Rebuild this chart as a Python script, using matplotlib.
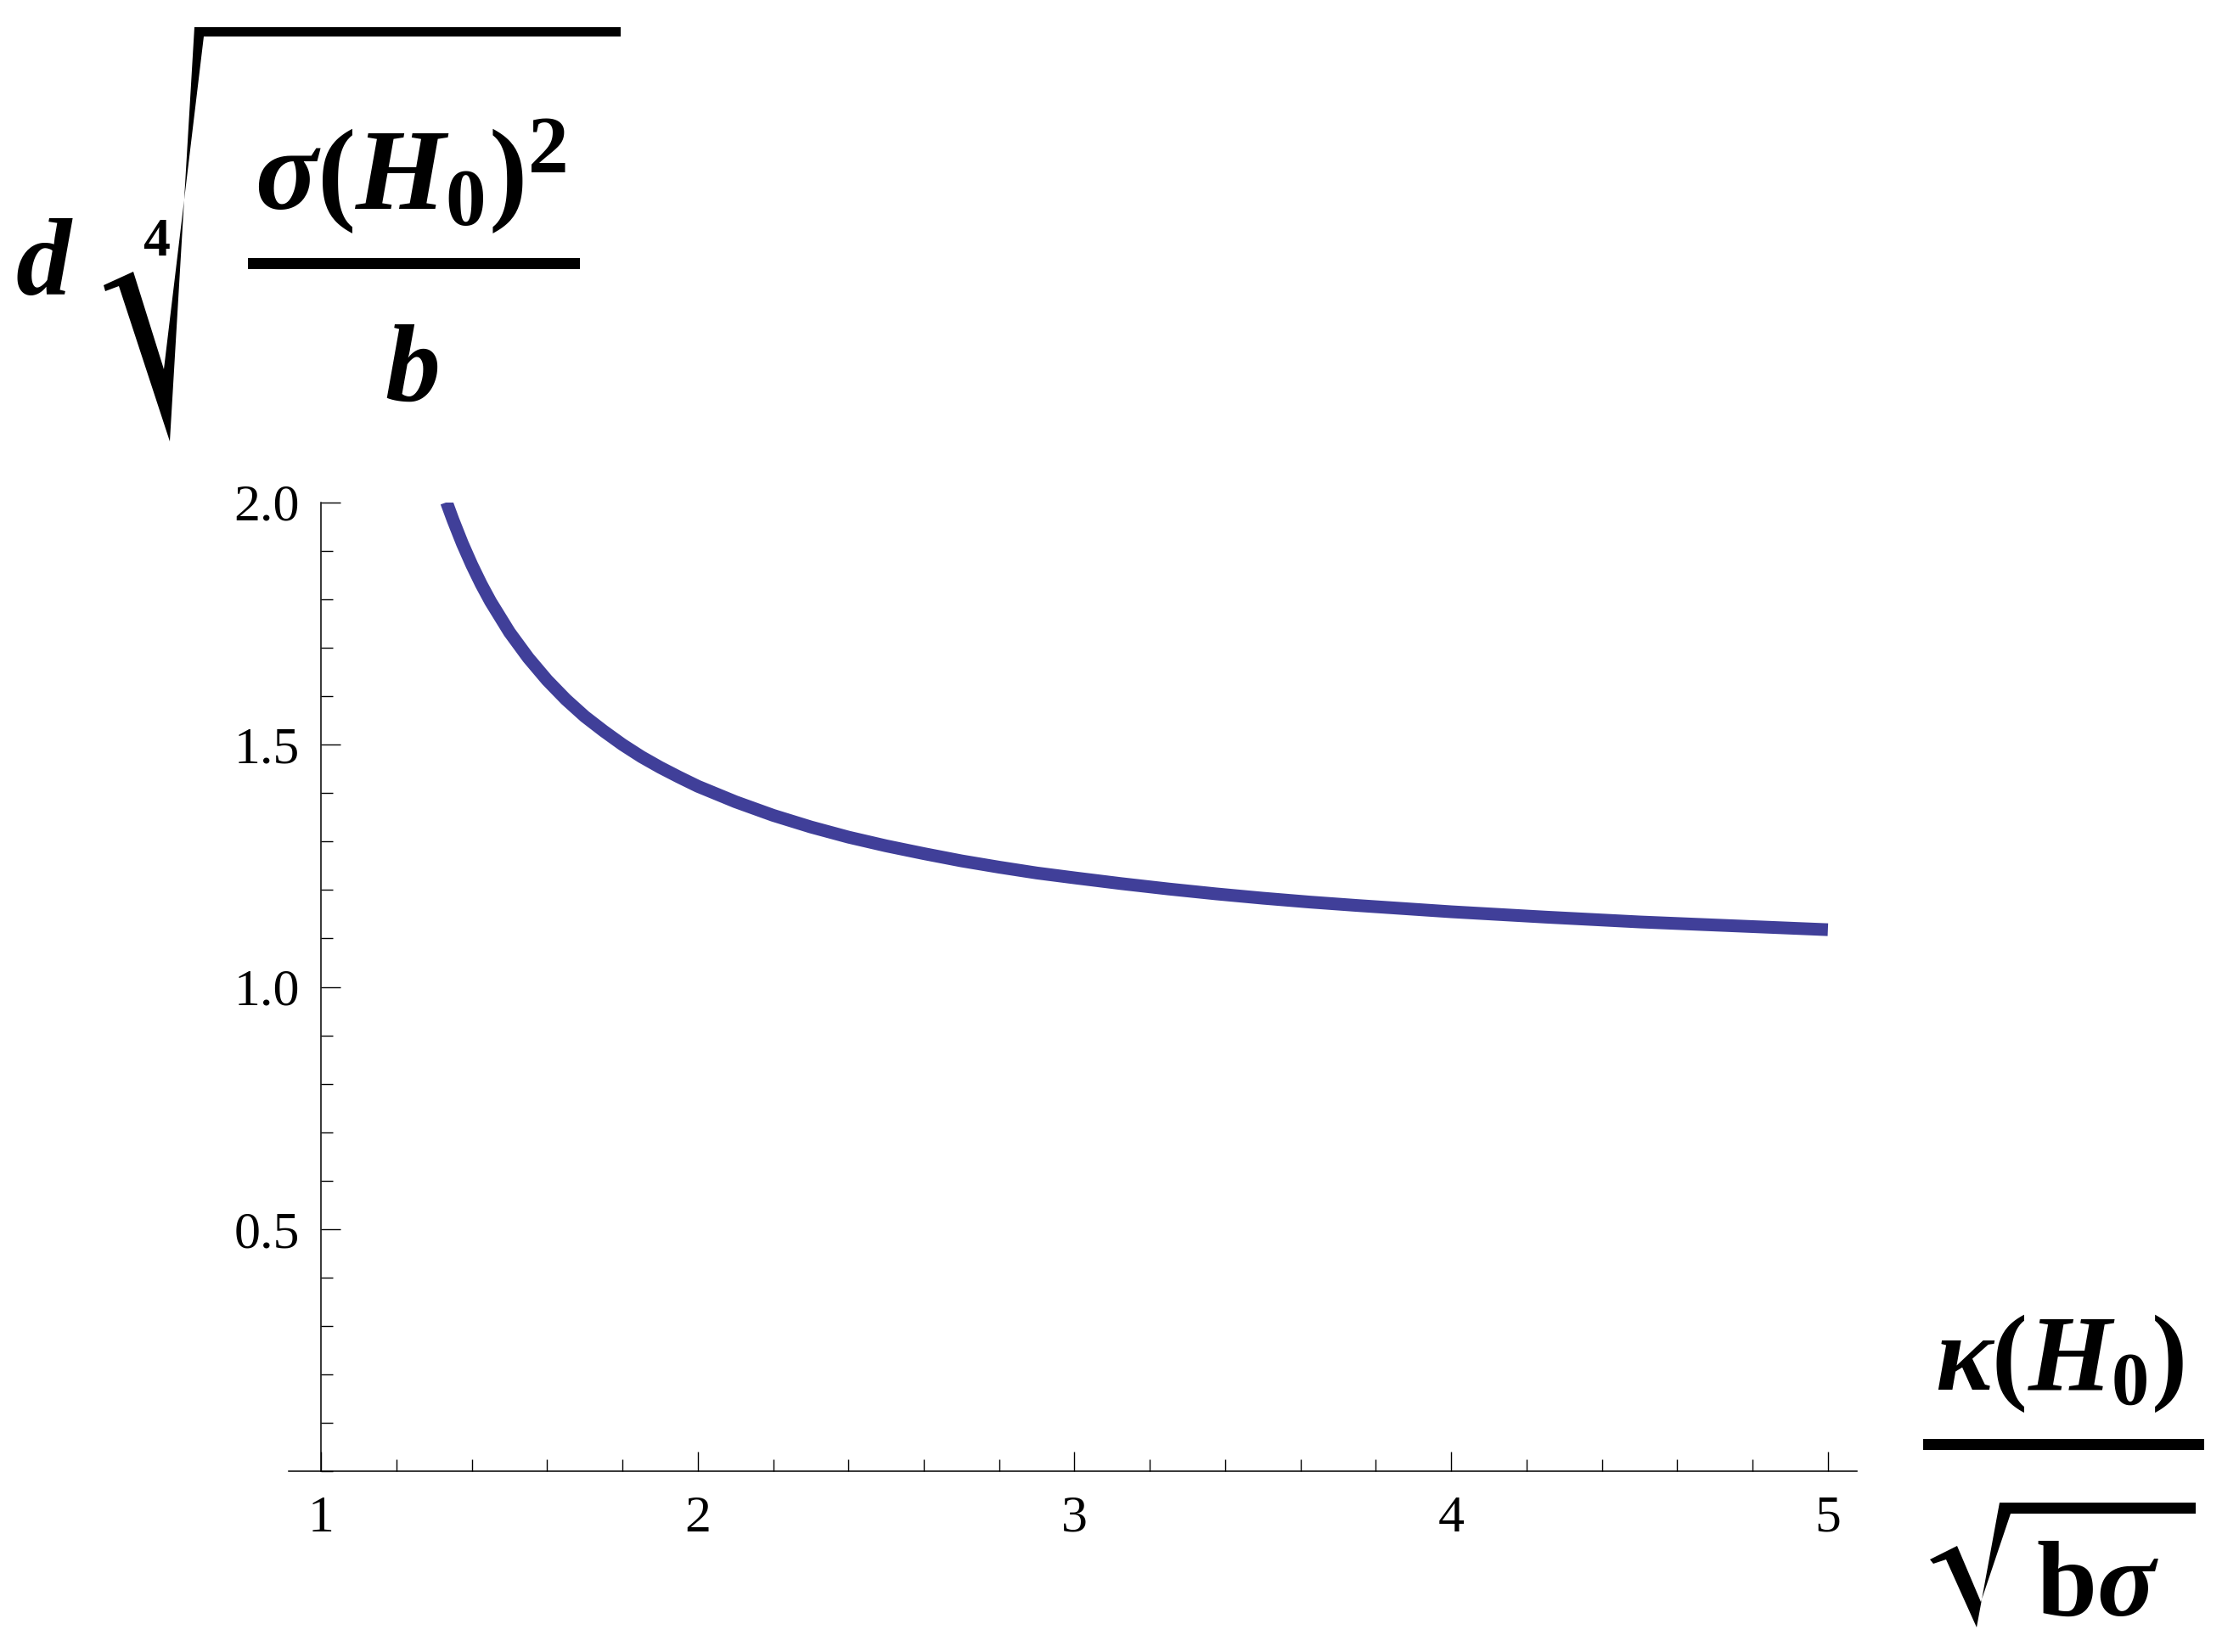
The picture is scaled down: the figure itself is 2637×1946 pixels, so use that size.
import matplotlib
matplotlib.use("Agg")
import matplotlib.pyplot as plt
from matplotlib.patches import Polygon, Rectangle
from matplotlib.ticker import MultipleLocator, FixedLocator

# ---- data ----
kappa_ratio = [1.333, 1.35, 1.375, 1.4, 1.425, 1.45, 1.5, 1.55, 1.6, 1.65, 1.7, 1.75,
               1.8, 1.85, 1.9, 1.95, 2.0, 2.1, 2.2, 2.3, 2.4, 2.5, 2.6, 2.7, 2.8, 2.9,
               3.0, 3.125, 3.25, 3.375, 3.5, 3.625, 3.75, 4.0, 4.25, 4.5, 4.75, 5.0]
d_scaled = [2.0, 1.964, 1.915, 1.871, 1.831, 1.795, 1.732, 1.679, 1.633, 1.593, 1.558, 1.528,
            1.5, 1.475, 1.453, 1.433, 1.414, 1.382, 1.354, 1.330, 1.309, 1.291, 1.275, 1.260,
            1.247, 1.235, 1.225, 1.213, 1.202, 1.192, 1.183, 1.175, 1.168, 1.155, 1.144,
            1.134, 1.126, 1.118]
x_ticks = [1, 2, 3, 4, 5]
y_ticks = [0.5, 1.0, 1.5, 2.0]
y_tick_labels = ["0.5", "1.0", "1.5", "2.0"]

plt.rcParams['mathtext.fontset'] = 'custom'
plt.rcParams['mathtext.rm'] = 'Liberation Serif:bold'
plt.rcParams['mathtext.it'] = 'Liberation Serif:italic:bold'
plt.rcParams['mathtext.bf'] = 'Liberation Serif:bold'

W, H = 2637, 1946
DPI = 200
fig = plt.figure(figsize=(W / DPI, H / DPI), dpi=DPI)

def fx(x):
    return x / W

def fy(y):
    return 1 - y / H

# axes placement (pixels): left 340, right 2187, top 591.7, bottom 1733.3
ax = fig.add_axes([fx(340), fy(1733.3), fx(2187) - fx(340), fy(591.7) - fy(1733.3)])
ax.plot(kappa_ratio, d_scaled, color='#403f99', lw=5.4, solid_capstyle='butt',
        solid_joinstyle='round')
ax.set_xlim(0.914, 5.077)
ax.set_ylim(0.0, 2.0)

for s in ['top', 'right']:
    ax.spines[s].set_visible(False)
ax.spines['left'].set_position(('data', 1.0))
for s in ['left', 'bottom']:
    ax.spines[s].set_linewidth(0.55)

ax.xaxis.set_major_locator(FixedLocator(x_ticks))
ax.xaxis.set_minor_locator(MultipleLocator(0.2))
ax.yaxis.set_major_locator(FixedLocator(y_ticks))
ax.yaxis.set_minor_locator(MultipleLocator(0.1))
ax.set_xticklabels([str(v) for v in x_ticks])
ax.set_yticklabels(y_tick_labels)

ax.tick_params(which='major', direction='in', length=8.2, width=0.5, labelsize=22.3)
ax.tick_params(which='minor', direction='in', length=4.9, width=0.5)
ax.tick_params(axis='y', pad=9)
ax.tick_params(axis='x', pad=10)
for lab in ax.get_xticklabels() + ax.get_yticklabels():
    lab.set_fontfamily('Liberation Serif')

# ---- y label:  d (sigma(H0)^2 / b)^(1/4) ----
fs_big = 46.8
fig.text(fx(18), fy(347), 'd', fontfamily='Liberation Serif', fontstyle='italic',
         fontweight='bold', fontsize=fs_big, ha='left', va='baseline')
fig.text(fx(168), fy(301), '4', fontfamily='Liberation Serif', fontweight='bold',
         fontsize=23, ha='left', va='baseline')
rad_y = [(122, 336), (157, 320), (193, 435), (240, 43), (731, 43), (731, 32),
         (229, 32), (200, 520), (140, 337), (124, 343)]
fig.add_artist(Polygon([(fx(a), fy(b)) for a, b in rad_y], closed=True,
                       transform=fig.transFigure, facecolor='black', edgecolor='none'))
fig.text(fx(484), fy(248), r'$\sigma(H_0)^2$', fontsize=49, ha='center', va='baseline')
fig.add_artist(Rectangle((fx(292), fy(317)), fx(683) - fx(292), fy(304) - fy(317),
                         transform=fig.transFigure, facecolor='black', edgecolor='none'))
fig.text(fx(486), fy(472), 'b', fontfamily='Liberation Serif', fontstyle='italic',
         fontweight='bold', fontsize=fs_big, ha='center', va='baseline')

# ---- x label: kappa(H0) / sqrt(b sigma) ----
fig.text(fx(2426), fy(1637), r'$\kappa(H_0)$', fontsize=45.5, ha='center', va='baseline')
fig.add_artist(Rectangle((fx(2265), fy(1708)), fx(2596) - fx(2265), fy(1695) - fy(1708),
                         transform=fig.transFigure, facecolor='black', edgecolor='none'))
rad_x = [(2273, 1837), (2305, 1821), (2333, 1887), (2368, 1783), (2586, 1783),
         (2586, 1770), (2355, 1770), (2328, 1917), (2292, 1837), (2277, 1842)]
fig.add_artist(Polygon([(fx(a), fy(b)) for a, b in rad_x], closed=True,
                       transform=fig.transFigure, facecolor='black', edgecolor='none'))
fig.text(fx(2398), fy(1903), r'$\mathrm{b}\sigma$', fontsize=46, ha='left', va='baseline')

fig.savefig('out.png', dpi=DPI, facecolor='white')
